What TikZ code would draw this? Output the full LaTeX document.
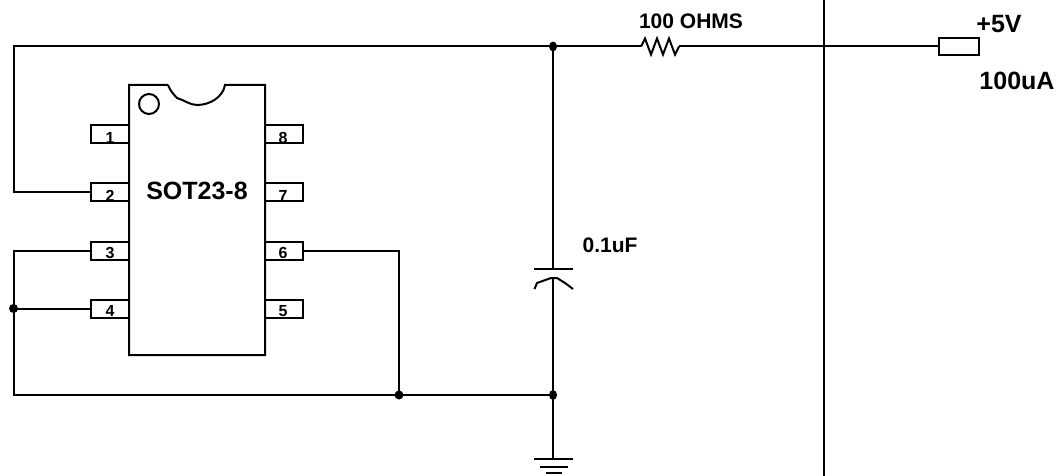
\documentclass[tikz,border=0pt]{standalone}
\usepackage{fontspec}
\usetikzlibrary{shapes.geometric}
\setmainfont{Liberation Sans}
\begin{document}
\begin{tikzpicture}[x=1pt,y=-1pt,line width=2pt,line cap=butt,line join=miter,
  pinbox/.style={draw,rectangle,inner sep=0pt,outer sep=0pt,minimum width=38pt,minimum height=18pt},
  junction/.style={fill,ellipse,inner sep=0pt,minimum width=8pt,minimum height=10pt},
  dot/.style={fill,circle,inner sep=0pt,minimum size=9pt},
  pinno/.style={anchor=base,inner sep=0pt,font=\bfseries\fontsize{16}{16}\selectfont},
  lab/.style={anchor=base,inner sep=0pt,font=\bfseries\fontsize{21}{21}\selectfont},
  biglab/.style={anchor=base,inner sep=0pt,font=\bfseries\fontsize{25}{25}\selectfont}]
\useasboundingbox (0,0) rectangle (1057,476);
% chip outline
\draw (168,85) -- (129,85) -- (129,355) -- (265,355) -- (265,85) -- (225,85)
  .. controls (223,97) and (210,105) .. (197,105)
  .. controls (190,105) and (184,100) .. (177,98)
  .. controls (173,94) and (170,90) .. (168,85);
\node[draw,circle,inner sep=0pt,minimum size=20pt] (mark) at (149,104) {};
% pins
\node[pinbox] (p1) at (110,134) {};
\node[pinbox] (p2) at (110,192) {};
\node[pinbox] (p3) at (110,250.5) {};
\node[pinbox] (p4) at (110,308.5) {};
\node[pinbox] (p8) at (284,134) {};
\node[pinbox] (p7) at (284,192) {};
\node[pinbox] (p6) at (284,250.5) {};
\node[pinbox] (p5) at (284,308.5) {};
\node[pinno] (n1) at (110,143) {1};
\node[pinno] (n2) at (110,201) {2};
\node[pinno] (n3) at (110,258) {3};
\node[pinno] (n4) at (110,316) {4};
\node[pinno] (n8) at (283,143) {8};
\node[pinno] (n7) at (283,201) {7};
\node[pinno] (n6) at (283,258) {6};
\node[pinno] (n5) at (283,316) {5};
\node[biglab] (chip) at (197,199) {SOT23-8};
% junctions and coordinates
\node[junction] (jt) at (553,46.5) {};
\node[junction] (jb) at (553,395) {};
\node[dot] (j6) at (399,395) {};
\node[dot] (j4) at (13.5,308.5) {};
\coordinate (tl) at (13.5,46.5);
\coordinate (rl) at (641,46.5);
\coordinate (rr) at (679,46.5);
\coordinate (ct) at (553,269);
\coordinate (cb) at (553,278);
\coordinate (gt) at (553,459);
\node[draw,rectangle,inner sep=0pt,outer sep=0pt,minimum width=40pt,minimum height=17pt] (src) at (959,46.5) {};
% wires
\draw (p2.west) -| (tl) -- (jt.center) -- (rl);
\draw (rl) -- (645,38.5) -- (651,54.5) -- (657,38.5) -- (663,54.5) -- (669,38.5) -- (675,54.5) -- (rr);
\draw (rr) -- (src.west);
\draw (jt.center) -- (ct);
\draw (cb) -- (jb.center) -- (gt);
\draw (p3.west) -| (j4.center);
\draw (p4.west) -- (j4.center);
\draw (j4.center) |- (j6.center) -- (jb.center);
\draw (p6.east) -| (j6.center);
% capacitor
\draw (534,269) -- (573,269);
\draw[line join=round] (534.5,289) -- (537,283) -- (551,278) -- (557,278) -- (565,283) -- (573,289);
% ground
\draw (534,459) -- (573,459);
\draw (540,467) -- (568,467);
\draw (546,473) -- (562,473);
% barrier
\draw (824,0) -- (824,476);
% labels
\node[lab] (lr) at (691,29) {100 OHMS};
\node[lab] (lc) at (610,252) {0.1uF};
\node[biglab] (lv) at (999,33) {+5V};
\node[biglab] (li) at (1017,90) {100uA};
\end{tikzpicture}
\end{document}
